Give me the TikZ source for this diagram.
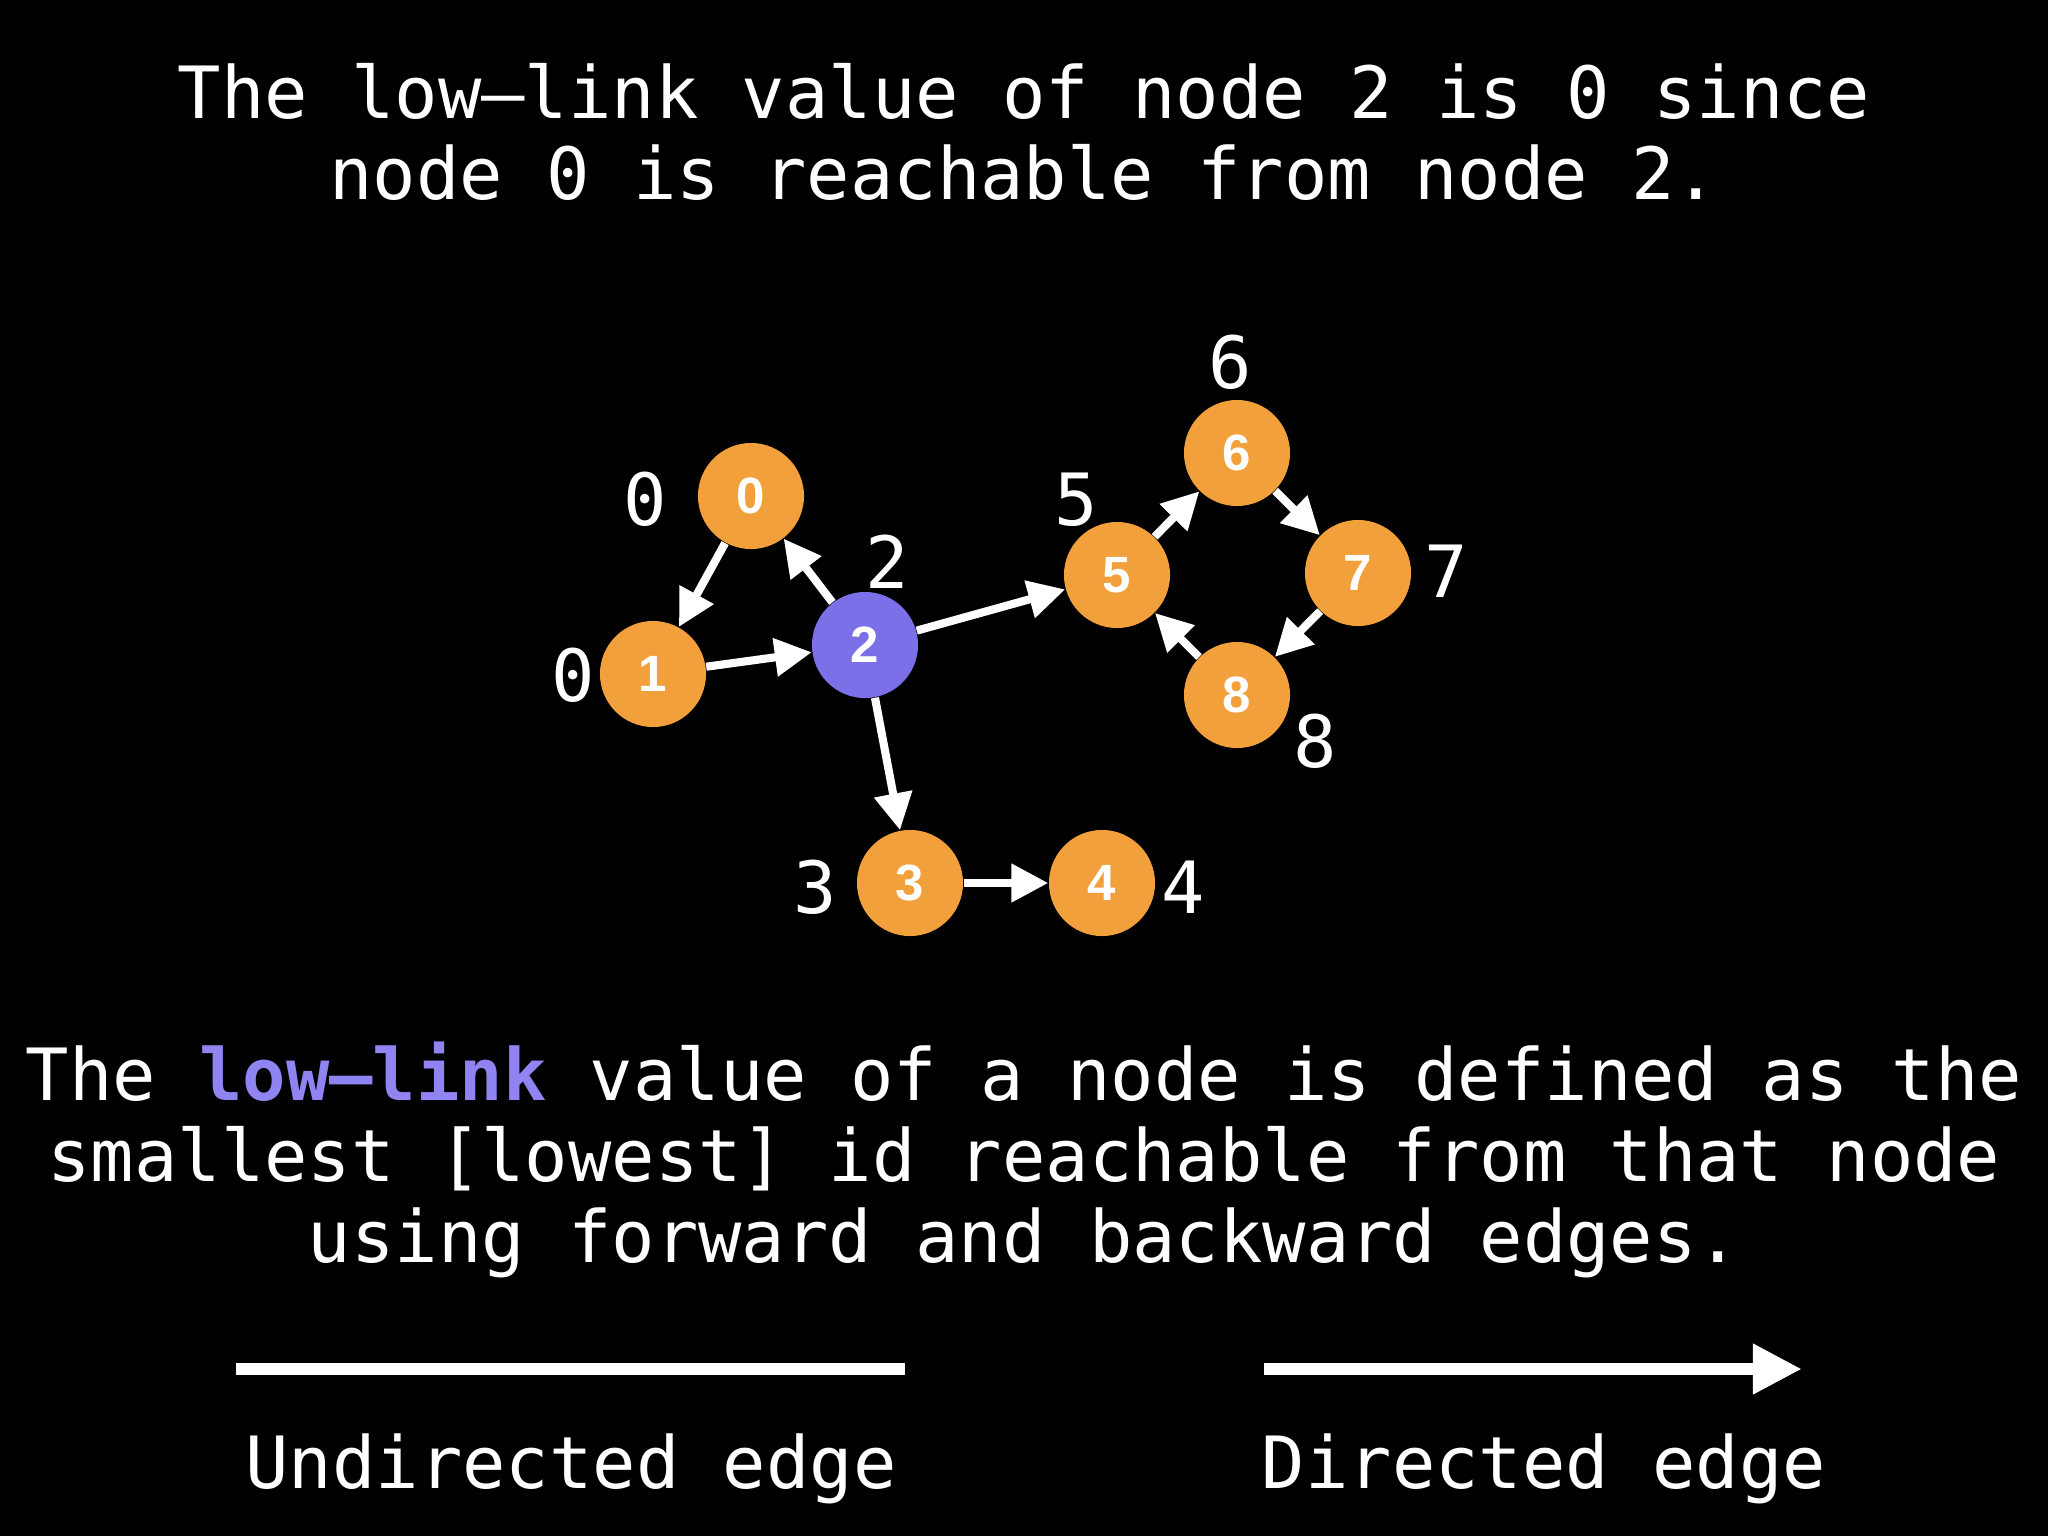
\documentclass[tikz,border=0pt]{standalone}
\usepackage{fontspec}
\usetikzlibrary{arrows.meta}
\newfontfamily\monof{DejaVu Sans Mono}
\newfontfamily\numf{Liberation Sans}
\definecolor{orng}{RGB}{242,160,60}
\definecolor{purp}{RGB}{124,112,232}
\definecolor{lpurp}{RGB}{143,132,242}
\tikzset{
 gnode/.style={circle, fill=orng, minimum size=1.06cm, inner sep=0pt, text=white, font=\numf\bfseries\fontsize{14.5}{14.5}\selectfont},
 idlabel/.style={text=white, font=\monof\fontsize{20.5}{23}\selectfont, inner sep=0pt},
 txt/.style={text=white, font=\monof\fontsize{20.5}{23}\selectfont, inner sep=0pt, anchor=base},
 edge/.style={draw=white, line width=2.3pt, -{Triangle[length=10.5pt,width=10.5pt]}},
 legline/.style={draw=white, line width=3.5pt},
}
\begin{document}
\begin{tikzpicture}[x=0.01cm,y=-0.01cm]
\fill[black] (0,0) rectangle (2048,1536);
\useasboundingbox (0,0) rectangle (2048,1536);

% title
\node[txt] (t1) at (1024,118) {The low–link value of node 2 is 0 since};
\node[txt] (t2) at (1024,199) {node 0 is reachable from node 2.};

% graph nodes
\node[gnode] (n0) at (751,496) {0};
\node[gnode] (n1) at (653,674) {1};
\node[gnode, fill=purp] (n2) at (865,645) {2};
\node[gnode] (n3) at (910,883) {3};
\node[gnode] (n4) at (1102,883) {4};
\node[gnode] (n5) at (1117,575) {5};
\node[gnode] (n6) at (1237,453) {6};
\node[gnode] (n7) at (1358,573) {7};
\node[gnode] (n8) at (1237,695) {8};

% low-link labels
\node[idlabel] (l0) at (645,499) {0};
\node[idlabel] (l1) at (573,675) {0};
\node[idlabel] (l2) at (887,562) {2};
\node[idlabel] (l3) at (815,887) {3};
\node[idlabel] (l4) at (1183,887) {4};
\node[idlabel] (l5) at (1076,500) {5};
\node[idlabel] (l6) at (1230,362) {6};
\node[idlabel] (l7) at (1446,571) {7};
\node[idlabel] (l8) at (1315,741) {8};

% edges
\draw[edge] (n0) -- (n1);
\draw[edge] (n2) -- (n0);
\draw[edge] (n1) -- (n2);
\draw[edge] (n2) -- (n5);
\draw[edge] (n2) -- (n3);
\draw[edge] (n3) -- (n4);
\draw[edge] (n5) -- (n6);
\draw[edge] (n6) -- (n7);
\draw[edge] (n7) -- (n8);
\draw[edge] (n8) -- (n5);

% definition text
\node[txt] (b1) at (1024,1100) {The \textcolor{lpurp}{\bfseries low–link} value of a node is defined as the};
\node[txt] (b2) at (1024,1181) {smallest [lowest] id reachable from that node};
\node[txt] (b3) at (1024,1262) {using forward and backward edges.};

% legend
\coordinate (u1) at (236,1369);
\coordinate (u2) at (905,1369);
\draw[legline] (u1) -- (u2);
\coordinate (d1) at (1264,1369);
\coordinate (d2) at (1802,1369);
\draw[legline, -{Triangle[length=14pt,width=13.5pt]}] (d1) -- (d2);
\node[txt] (lu) at (571,1488) {Undirected edge};
\node[txt] (ld) at (1544,1488) {Directed edge};
\end{tikzpicture}
\end{document}
